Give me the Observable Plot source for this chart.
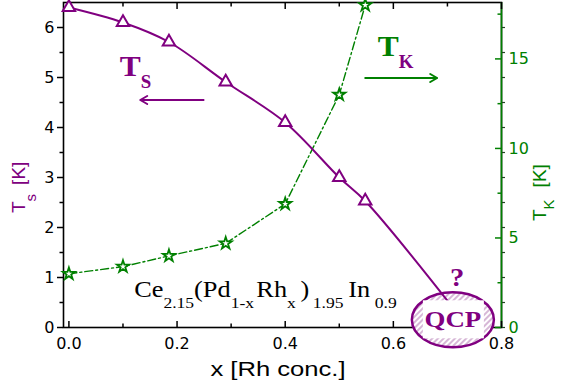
<!DOCTYPE html>
<html><head><meta charset="utf-8">
<script src="https://cdn.jsdelivr.net/npm/d3@7"></script>
<script src="https://cdn.jsdelivr.net/npm/@observablehq/plot@0.6"></script>
<style>body{margin:0;background:#fff} svg{display:block}</style>
</head><body><div id="chart"></div>
<script>
// ---- data ----
const rhConc   = [0, 0.1, 0.185, 0.29, 0.4, 0.5, 0.548];
const tsValues = [6.4, 6.1, 5.71, 4.91, 4.1, 3.0, 2.53];
const tkValues = [3.0, 3.4, 4.0, 4.7, 6.9, 13.0, 18.0];
const qcpX = 0.715, qcpTs = 0.33;          // extrapolated end of T_S line
const xTicksMajor  = [0, 0.2, 0.4, 0.6, 0.8];
const xTicksMinor  = [0.1, 0.3, 0.5, 0.7];
const tsTicksMajor = [0, 1, 2, 3, 4, 5, 6];
const tsTicksMinor = [0.5, 1.5, 2.5, 3.5, 4.5, 5.5];
const tkTicksMajor = [0, 5, 10, 15];
const tkTicksMinor = [2.5, 7.5, 12.5, 17.5];
const xDomain  = [-0.01, 0.8];
const tsDomain = [0, 6.5];
const tkDomain = [0, 18.15];

// ---- layout / style ----
const PURPLE = "#800080", GREEN = "#008000";
const k = tsDomain[1] / tkDomain[1];
const W = 570, H = 387, mL = 63, mR = 69, mT = 2, mB = 60;
const innerW = W - mL - mR, innerH = H - mT - mB;

const tsData = rhConc.map((x, i) => ({x, ts: tsValues[i]}));
const tkData = rhConc.map((x, i) => ({x, tk: tkValues[i]}));
const tsLine = [...tsData, {x: qcpX, ts: qcpTs}];

const qcp = {x: 0.711, y: 0.144};

function ellipseMark(index, {x, y}) {
  const g = d3.create("svg:g");
  const defs = g.append("defs");
  const pat = defs.append("pattern").attr("id", "qcpHatch").attr("patternUnits", "userSpaceOnUse")
    .attr("width", 4).attr("height", 4).attr("patternTransform", "rotate(45)");
  pat.append("rect").attr("width", 4).attr("height", 4).attr("fill", "white");
  pat.append("line").attr("x1", 1).attr("y1", 0).attr("x2", 1).attr("y2", 4)
    .attr("stroke", "#c190c1").attr("stroke-width", 1.3);
  g.append("ellipse").attr("cx", x(qcp.x)).attr("cy", y(qcp.y)).attr("rx", 41).attr("ry", 27.5)
    .attr("fill", "url(#qcpHatch)").attr("stroke", PURPLE).attr("stroke-width", 2.5);
  return g.node();
}

function annotationMark(index, {x, y}) {
  const g = d3.create("svg:g").attr("text-anchor", "start");
  const cx = x(qcp.x), cy = y(qcp.y);
  g.append("rect").attr("x", cx - 30).attr("y", cy - 19.5).attr("width", 61).attr("height", 38).attr("fill", "white");
  g.append("text").attr("transform", `translate(${cx},${cy + 7.5}) scale(1.12,1)`).attr("text-anchor", "middle")
    .attr("font-family", "Liberation Serif").attr("font-weight", "bold").attr("font-size", 24)
    .attr("fill", PURPLE).text("QCP");
  g.append("text").attr("transform", `translate(${x(0.719)},${y(0.83)}) scale(1.1,1)`).attr("text-anchor", "middle")
    .attr("font-family", "Liberation Serif").attr("font-weight", "bold").attr("font-size", 26)
    .attr("fill", PURPLE).text("?");

  // T_S label
  const ts = g.append("text").attr("transform", `translate(${x(0.095)},${y(5.03)}) scale(1.05,1)`)
    .attr("font-family", "Liberation Serif").attr("font-weight", "bold").attr("fill", PURPLE);
  ts.append("tspan").attr("font-size", 30).text("T");
  ts.append("tspan").attr("font-size", 18).attr("dy", 12).text("S");
  // T_K label
  const tk = g.append("text").attr("transform", `translate(${x(0.572)},${y(5.42)}) scale(1.05,1)`)
    .attr("font-family", "Liberation Serif").attr("font-weight", "bold");
  tk.append("tspan").attr("font-size", 30).attr("fill", GREEN).text("T");
  tk.append("tspan").attr("font-size", 18).attr("dy", 12).attr("fill", PURPLE).text("K");

  // formula
  const f = g.append("text").attr("transform", `translate(${x(0.1216)},${y(0.6)}) scale(1.17,1)`)
    .attr("font-family", "Liberation Serif").attr("fill", "black");
  const M = 22.5, S = 15, D = 11;
  const parts = [
    ["Ce", M, 0, 0], ["2.15", S, D, 0], ["(Pd", M, -D, 0], ["1-x", S, D, 0],
    ["Rh", M, -D, 2], ["x", S, D, 0], [")", M, -D, 4], ["1.95", S, D, 3],
    ["In", M, -D, 4], ["0.9", S, D, 4]
  ];
  for (const [t, fs, dy, dx] of parts)
    f.append("tspan").attr("font-size", fs).attr("dy", dy).attr("dx", dx).text(t);

  // axis titles
  g.append("text").attr("transform", `translate(${(mL + W - mR) / 2 - 4},376) scale(1.22,1)`)
    .attr("text-anchor", "middle").attr("font-family", "Liberation Sans").attr("font-size", 21)
    .attr("fill", "black").text("x [Rh conc.]");
  const yl = g.append("text").attr("transform", `translate(25,213) rotate(-90)`)
    .attr("font-family", "Liberation Sans").attr("font-size", 19).attr("fill", PURPLE);
  yl.append("tspan").text("T");
  yl.append("tspan").attr("font-size", 15).attr("dy", 11).text("s");
  yl.append("tspan").attr("dy", -11).attr("dx", 9).text("[K]");
  const yr = g.append("text").attr("transform", `translate(546,221) rotate(-90)`)
    .attr("font-family", "Liberation Sans").attr("font-size", 19).attr("fill", GREEN);
  yr.append("tspan").text("T");
  yr.append("tspan").attr("font-size", 15).attr("dy", 8).text("K");
  yr.append("tspan").attr("dy", -8).attr("dx", 12).text("[K]");
  return g.node();
}

const tsArrow = [{x1: 0.249, x2: 0.132, y: 4.55}];
const tkArrow = [{x1: 0.548, x2: 0.681, y: 4.99}];

const plot = Plot.plot({
  width: W, height: H,
  marginLeft: mL, marginRight: mR, marginTop: mT, marginBottom: mB,
  style: {fontFamily: "DejaVu Sans", fontSize: "16px", background: "white", overflow: "visible"},
  x: {domain: xDomain, label: null},
  y: {domain: tsDomain, label: null},
  marks: [
    // frame
    Plot.frame({stroke: "black", strokeWidth: 1.6}),
    Plot.ruleX([xDomain[1]], {stroke: GREEN, strokeWidth: 1.6}),
    // bottom axis
    Plot.axisX(xTicksMajor, {anchor: "bottom", tickSize: 0, tickPadding: 10, tickFormat: d3.format(".1f"), fill: "black"}),
    Plot.tickX(xTicksMajor, {x: d => d, insetTop: innerH - 6, stroke: "black", strokeWidth: 1.5}),
    Plot.tickX(xTicksMinor, {x: d => d, insetTop: innerH - 3.5, stroke: "black", strokeWidth: 1.5}),
    // top ticks
    Plot.tickX(xTicksMajor, {x: d => d, insetBottom: innerH - 7, stroke: "black", strokeWidth: 1.5}),
    Plot.tickX(xTicksMinor, {x: d => d, insetBottom: innerH - 4.5, stroke: "black", strokeWidth: 1.5}),
    // left axis
    Plot.axisY(tsTicksMajor, {anchor: "left", tickSize: 6, tickPadding: 3, strokeWidth: 1.5, fill: "black", stroke: "black", tickFormat: d => String(d)}),
    Plot.axisY(tsTicksMinor, {anchor: "left", tickSize: 3.5, tickFormat: () => "", strokeWidth: 1.5, stroke: "black"}),
    // right mirrored ticks (outward)
    Plot.axisY([...tsTicksMajor, ...tsTicksMinor], {anchor: "right", tickSize: 3, tickFormat: () => "", strokeWidth: 1.2, stroke: "#224422"}),
    // right T_K axis
    Plot.axisY(tkTicksMajor.map(v => v * k), {anchor: "right", tickSize: 0, tickPadding: 7, tickFormat: d => String(Math.round(d / k)), fill: GREEN}),
    Plot.tickY(tkTicksMajor.map(v => v * k), {y: d => d, insetLeft: innerW - 6, stroke: GREEN, strokeWidth: 1.5}),
    Plot.tickY(tkTicksMinor.map(v => v * k), {y: d => d, insetLeft: innerW - 3.5, stroke: GREEN, strokeWidth: 1.5}),
    // QCP ellipse
    ellipseMark,
    // data
    Plot.line(tkData, {x: "x", y: d => d.tk * k, stroke: GREEN, strokeWidth: 1.4, strokeDasharray: "8,3,2,3"}),
    Plot.line(tsLine, {x: "x", y: "ts", stroke: PURPLE, strokeWidth: 2, curve: "catmull-rom"}),
    Plot.dot(tkData, {x: "x", y: d => d.tk * k, symbol: "star", r: 3.8, stroke: GREEN, fill: "white", strokeWidth: 1.8}),
    Plot.dot(tsData, {x: "x", y: "ts", symbol: "triangle", r: 4.6, stroke: PURPLE, fill: "white", strokeWidth: 2}),
    // arrows
    Plot.arrow(tsArrow, {x1: "x1", x2: "x2", y1: "y", y2: "y", stroke: PURPLE, strokeWidth: 2, headLength: 6}),
    Plot.arrow(tkArrow, {x1: "x1", x2: "x2", y1: "y", y2: "y", stroke: GREEN, strokeWidth: 2, headLength: 6}),
    annotationMark
  ]
});
document.getElementById("chart").appendChild(plot);
</script>
</body></html>
